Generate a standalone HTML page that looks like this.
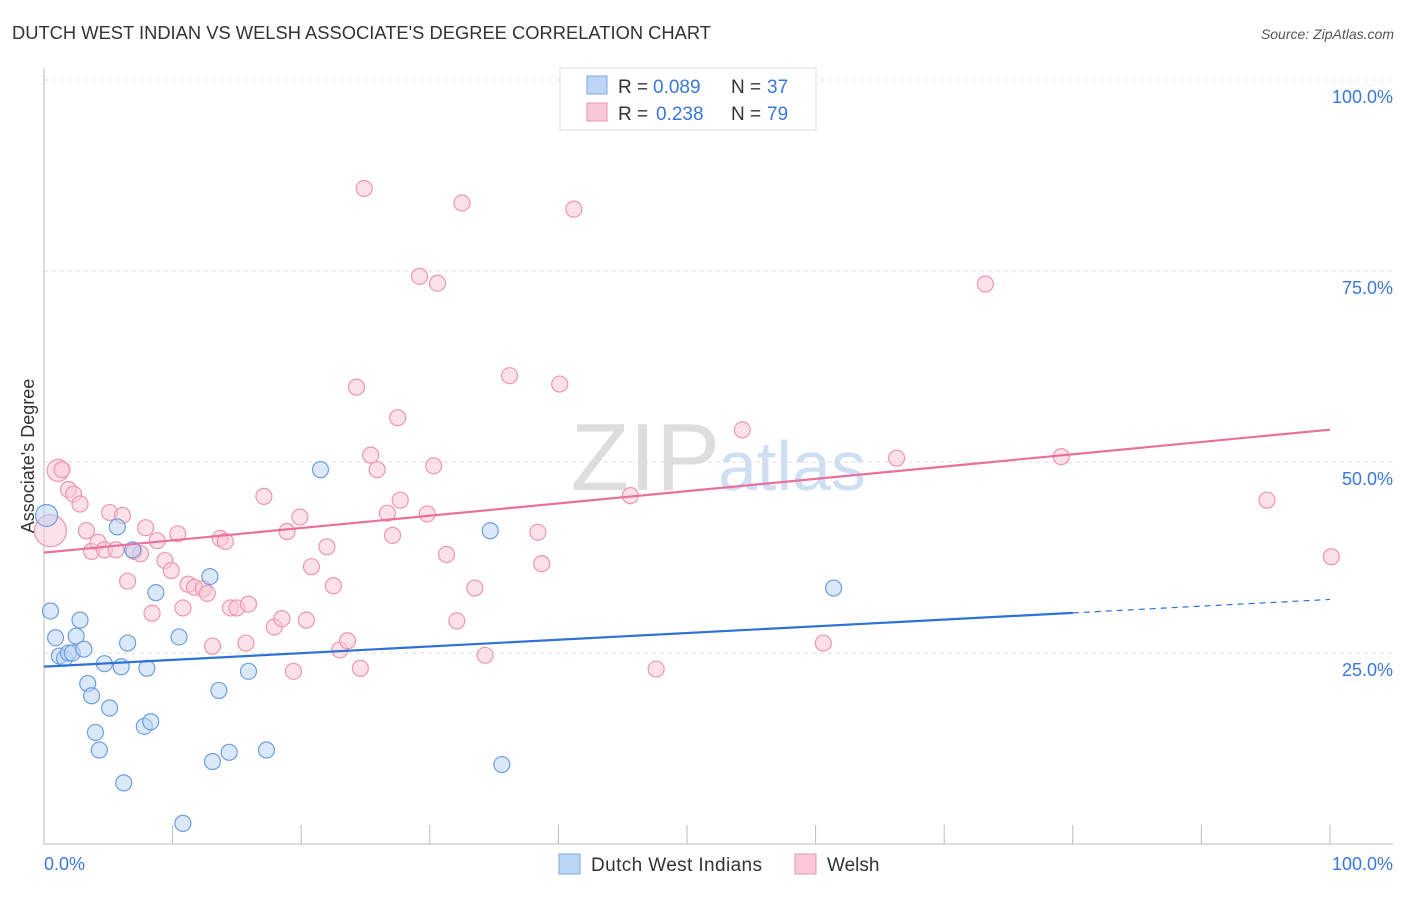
<!DOCTYPE html>
<html><head><meta charset="utf-8"><style>
body{margin:0;background:#fff;font-family:"Liberation Sans",sans-serif;}
svg text{font-family:"Liberation Sans",sans-serif;}
</style></head><body>
<svg id="chart" width="1406" height="892" xmlns="http://www.w3.org/2000/svg">
<text x="12" y="39" font-size="18" fill="#333" textLength="699" lengthAdjust="spacingAndGlyphs">DUTCH WEST INDIAN VS WELSH ASSOCIATE'S DEGREE CORRELATION CHART</text>
<text x="1394" y="39" font-size="14" fill="#555" font-style="italic" text-anchor="end">Source: ZipAtlas.com</text>
<text x="720" y="490" font-size="96" fill="#ddd" text-anchor="end" font-family="Liberation Serif">ZIP</text>
<text x="718" y="490" font-size="70" fill="#cfdff3">atlas</text>
<g id="grid"></g>
<g id="axes"></g>
<g id="marks"></g>
<text transform="translate(34,456) rotate(-90)" font-size="18" fill="#333" text-anchor="middle">Associate's Degree</text>
<g>
<rect x="560" y="68" width="256" height="62" fill="#fff" stroke="#ddd"/>
<rect x="587" y="76" width="20" height="18" fill="#bcd5f5" stroke="#7aa7e6"/>
<rect x="587" y="103" width="20" height="18" fill="#fac8d6" stroke="#ee96b0"/>
<text x="618" y="93" font-size="19" fill="#333">R =</text>
<text x="653" y="93" font-size="19" fill="#3a78d8">0.089</text>
<text x="731" y="93" font-size="19" fill="#333">N =</text>
<text x="767" y="93" font-size="19" fill="#3a78d8">37</text>
<text x="618" y="120" font-size="19" fill="#333">R =</text>
<text x="656" y="120" font-size="19" fill="#3a78d8">0.238</text>
<text x="731" y="120" font-size="19" fill="#333">N =</text>
<text x="767" y="120" font-size="19" fill="#3a78d8">79</text>
</g>
<g>
<rect x="559" y="854" width="21" height="20" fill="#bcd5f5" stroke="#7aa7e6"/>
<text x="591" y="871" font-size="19" fill="#333" textLength="171">Dutch West Indians</text>
<rect x="795" y="854" width="21" height="20" fill="#fac8d6" stroke="#ee96b0"/>
<text x="827" y="871" font-size="19" fill="#333">Welsh</text>
</g>
</svg>
<script>
const yTicks=[25,50,75,100];
const yTickLabels=["25.0%","50.0%","75.0%","100.0%"];
const blueX=[0.2,0.5,0.9,1.2,1.6,1.9,2.2,2.5,2.8,3.1,3.4,3.7,4.0,4.3,4.7,5.1,5.7,6.0,6.2,6.5,6.9,7.8,8.0,8.3,8.7,10.5,10.8,12.9,13.1,13.6,14.4,15.9,17.3,21.5,34.7,35.6,61.4];
const blueY=[43,30.5,27,24.6,24.3,25,25,27.2,29.3,25.5,21,19.4,14.6,12.3,23.6,17.8,41.5,23.2,8,26.3,38.5,15.4,23,16,32.9,27.1,2.7,35,10.8,20.1,12,22.6,12.3,49,41,10.4,33.5];
const pinkX=[0.5,1.1,1.4,1.9,2.3,2.8,3.3,3.7,4.2,4.7,5.1,5.6,6.1,6.5,7.0,7.5,7.9,8.4,8.8,9.4,9.9,10.4,10.8,11.2,11.7,12.4,12.7,13.1,13.7,14.1,14.5,15.0,15.7,15.9,17.1,17.9,18.5,18.9,19.4,19.9,20.4,20.8,22.0,22.5,23.0,23.6,24.3,24.6,24.9,25.4,25.9,26.7,27.1,27.5,27.7,29.2,29.8,30.3,30.6,31.3,32.1,32.5,33.5,34.3,36.2,38.4,38.7,40.1,41.2,45.6,47.6,54.3,60.6,66.3,73.2,79.1,95.1,100.1];
const pinkY=[41,48.9,49,46.4,45.8,44.5,41,38.3,39.5,38.5,43.4,38.5,43,34.4,38.3,38,41.4,30.2,39.7,37.1,35.8,40.6,30.9,34,33.6,33.4,32.8,25.9,40,39.6,30.9,30.9,26.3,31.4,45.5,28.4,29.5,40.9,22.6,42.8,29.3,36.3,38.9,33.8,25.4,26.6,59.8,23,85.8,50.9,49,43.3,40.4,55.8,45,74.3,43.2,49.5,73.4,37.9,29.2,83.9,33.5,24.7,61.3,40.8,36.7,60.2,83.1,45.6,22.9,54.2,26.3,50.5,73.3,50.7,45,37.6];
const X=v=>44+v*12.86, Y=v=>844-v*7.64;
const NS="http://www.w3.org/2000/svg";
function mk(tag,attrs,parent){const e=document.createElementNS(NS,tag);for(const k in attrs)e.setAttribute(k,attrs[k]);parent.appendChild(e);return e;}
const grid=document.getElementById('grid'),axes=document.getElementById('axes'),marks=document.getElementById('marks');
yTicks.forEach((t,i)=>{
 const l=mk('line',{x1:44,x2:1393,y1:Y(t),y2:Y(t),stroke:'#ddd','stroke-dasharray':'4,4'},grid);
 
 
 const tx=mk('text',{x:1393,y:Y(t)+23,'font-size':18,fill:'#3a78d8','text-anchor':'end'},axes);
 tx.textContent=yTickLabels[i];
 
 
});
const ax=mk('line',{x1:44,x2:44,y1:68,y2:844,stroke:'#bbb'},axes);


const bx=mk('line',{x1:44,x2:1393,y1:844,y2:844,stroke:'#bbb'},axes);


for(let i=0;i<=10;i++){const t=mk('line',{x1:X(i*10),x2:X(i*10),y1:825,y2:844,stroke:'#bbb'},axes);
 
 }
const x0=mk('text',{x:44,y:870,'font-size':18,fill:'#3a78d8'},axes);x0.textContent='0.0%';


const x1=mk('text',{x:1393,y:870,'font-size':18,fill:'#3a78d8','text-anchor':'end'},axes);x1.textContent='100.0%';


function pts(xs,ys,fill,stroke,name){xs.forEach((x,i)=>{const big=(i<2&&name==='welsh-point')||(i===0&&name==='dutch-point');
 const c=mk('circle',{cx:X(x),cy:Y(ys[i]),r:big?(name==='welsh-point'&&i===0?16:11):8,fill:fill,stroke:stroke,'stroke-width':1.2,'fill-opacity':0.55},marks);
 
 });}
pts(pinkX,pinkY,'#fac8d6','#ee96b0','welsh-point');
pts(blueX,blueY,'#bcd5f5','#6d9ee0','dutch-point');
function fit(xs,ys){const n=xs.length,mx=xs.reduce((a,b)=>a+b)/n,my=ys.reduce((a,b)=>a+b)/n;let sxy=0,sxx=0;xs.forEach((x,i)=>{sxy+=(x-mx)*(ys[i]-my);sxx+=(x-mx)**2;});const b=sxy/sxx;return [my-b*mx,b];}
const [pa,pb]=fit(pinkX,pinkY);
const pl=mk('line',{x1:X(0),y1:Y(pa),x2:X(100),y2:Y(pa+pb*100),stroke:'#e8709a','stroke-width':2.2},marks);


const [ba,bb]=fit(blueX,blueY);
const bl=mk('line',{x1:X(0),y1:Y(ba),x2:X(80),y2:Y(ba+bb*80),stroke:'#2f72d6','stroke-width':2.2},marks);


const bd=mk('line',{x1:X(80),y1:Y(ba+bb*80),x2:X(100),y2:Y(ba+bb*100),stroke:'#2f72d6','stroke-width':1.2,'stroke-dasharray':'6,5'},marks);


</script>
</body></html>
